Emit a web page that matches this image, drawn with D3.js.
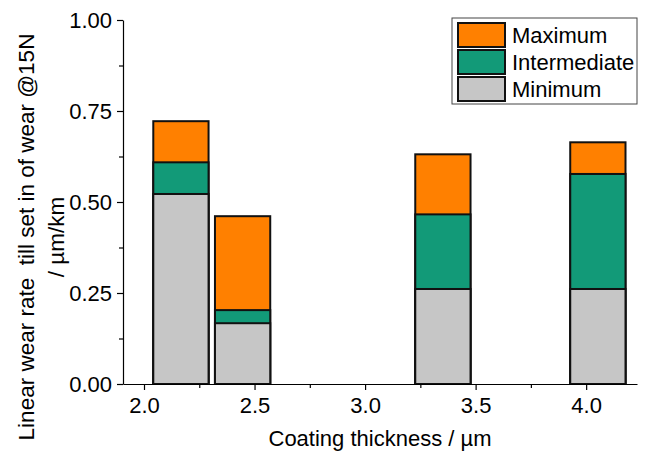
<!DOCTYPE html>
<html>
<head>
<meta charset="utf-8">
<script src="https://cdn.jsdelivr.net/npm/d3@7"></script>
<style>
  body { margin: 0; background: #fff; }
  svg { display: block; font-family: "Liberation Sans", Arial, sans-serif; }
</style>
</head>
<body>
<svg id="chart" width="646" height="455"></svg>
<script>
// coating thickness of each sample (bar centre) / µm
const thickness = [2.167, 2.446, 3.352, 4.053];
const barWidth = 0.25;

// wear rate values / µm/km
const minimum = [0.522, 0.167, 0.261, 0.261];
const intermediate = [0.609, 0.203, 0.466, 0.577];
const maximum = [0.722, 0.461, 0.631, 0.664];

const seriesNames = ["Maximum", "Intermediate", "Minimum"];
const colors = { Maximum: "#ff8000", Intermediate: "#129a78", Minimum: "#c6c6c6" };

const xTicks = [2.0, 2.5, 3.0, 3.5, 4.0];
const yTicks = [0, 0.25, 0.5, 0.75, 1.0];

const svg = d3.select("#chart");
const margin = { top: 20, right: 9, bottom: 71, left: 123 },
    width = +svg.attr("width") - margin.left - margin.right,
    height = +svg.attr("height") - margin.top - margin.bottom,
    g = svg.append("g").attr("transform", "translate(" + margin.left + "," + margin.top + ")");

const x = d3.scaleLinear().domain([1.905, 4.23]).range([0, width]);
const y = d3.scaleLinear().domain([0, 1]).range([height, 0]);

// bars: maximum drawn first, minimum in front
const series = [
    { name: "Maximum", values: maximum },
    { name: "Intermediate", values: intermediate },
    { name: "Minimum", values: minimum }
];

series.forEach(s => {
    g.append("g")
        .selectAll("rect")
        .data(s.values)
        .enter().append("rect")
        .attr("x", (v, i) => x(thickness[i] - barWidth / 2))
        .attr("width", (v, i) => x(thickness[i] + barWidth / 2) - x(thickness[i] - barWidth / 2))
        .attr("y", v => y(v))
        .attr("height", v => height - y(v))
        .attr("fill", colors[s.name])
        .attr("stroke", "#111")
        .attr("stroke-width", 2);
});

// minor ticks
g.append("g")
    .attr("transform", "translate(0," + height + ")")
    .call(d3.axisBottom(x).tickValues(d3.range(2.25, 4.2, 0.5)).tickSize(4).tickFormat(""))
    .call(a => a.select(".domain").remove());
g.append("g")
    .call(d3.axisLeft(y).tickValues(d3.range(0.125, 1, 0.25)).tickSize(4).tickFormat(""))
    .call(a => a.select(".domain").remove());

// x axis
const xAxis = g.append("g")
    .attr("transform", "translate(0," + height + ")")
    .call(d3.axisBottom(x).tickValues(xTicks).tickSize(6).tickSizeOuter(0).tickPadding(7).tickFormat(d3.format(".1f")));
xAxis.selectAll("text").attr("font-size", 22).attr("fill", "#000");

// y axis
const yAxis = g.append("g")
    .call(d3.axisLeft(y).tickValues(yTicks).tickSize(6).tickSizeOuter(0).tickPadding(5).tickFormat(d3.format(".2f")));
yAxis.selectAll("text").attr("font-size", 22).attr("fill", "#000");

svg.selectAll(".domain, .tick line").attr("stroke", "#000").attr("stroke-width", 1.2);

// axis titles
svg.append("text")
    .attr("x", 380)
    .attr("y", 446)
    .attr("text-anchor", "middle")
    .attr("font-size", 22)
    .text("Coating thickness / µm");

const yTitle = svg.append("text")
    .attr("transform", "translate(34,237) rotate(-90)")
    .attr("text-anchor", "middle")
    .attr("font-size", 22.5)
    .style("white-space", "pre");
yTitle.append("tspan").attr("x", 0).attr("dy", 0).text("Linear wear rate  till set in of wear @15N");
yTitle.append("tspan").attr("x", 0).attr("dy", 30).text("/ µm/km");

// legend
const legend = svg.append("g").attr("transform", "translate(452,18)");
legend.append("rect")
    .attr("width", 185)
    .attr("height", 86)
    .attr("fill", "#fff")
    .attr("stroke", "#444")
    .attr("stroke-width", 1);
const items = legend.selectAll("g.item")
    .data(seriesNames)
    .enter().append("g")
    .attr("class", "item")
    .attr("transform", (d, i) => "translate(6," + (5 + i * 27) + ")");
items.append("rect")
    .attr("width", 47)
    .attr("height", 24)
    .attr("fill", d => colors[d])
    .attr("stroke", "#111")
    .attr("stroke-width", 2);
items.append("text")
    .attr("x", 54)
    .attr("y", 12)
    .attr("dy", "0.35em")
    .attr("font-size", 22)
    .text(d => d);
</script>
</body>
</html>
